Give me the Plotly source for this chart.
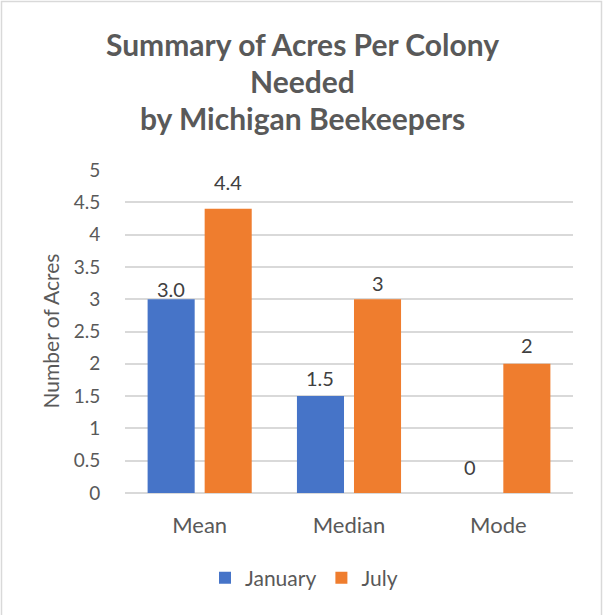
import plotly.graph_objects as go

# Summary statistics of acres per colony, by survey month
categories = ["Mean", "Median", "Mode"]
january = [3.0, 1.5, 0]
july = [4.4, 3, 2]
january_labels = ["3.0", "1.5", "0"]
july_labels = ["4.4", "3", "2"]
y_ticks = [0, 0.5, 1, 1.5, 2, 2.5, 3, 3.5, 4, 4.5, 5]
title_lines = ["Summary of Acres Per Colony", "Needed", "by Michigan Beekeepers"]

# Styling
FONT = "Lato, 'Open Sans', sans-serif"
TEXT = "#595959"
GRID = "#d9d9d9"
BLUE = "#4674c8"
ORANGE = "#ef7d2e"

W, H = 604, 615
M_L, M_R, M_T, M_B = 125, 31, 170, 122
plot_w = W - M_L - M_R
plot_h = H - M_T - M_B
BARGAP = 0.236
BARGROUPGAP = 0.175

fig = go.Figure()
fig.add_trace(go.Bar(name="January", x=categories, y=january,
                     marker=dict(color=BLUE, line=dict(width=0))))
fig.add_trace(go.Bar(name="July", x=categories, y=july,
                     marker=dict(color=ORANGE, line=dict(width=0))))

# Value labels above each bar (pixel gap between label baseline and bar top)
label_gap_jan = [1, 9, 17]
label_gap_jul = [18, 7, 10]
slot = (plot_w / len(categories)) * (1 - BARGAP) / 2
annotations = []
for i, c in enumerate(categories):
    for val, lab, gap, dx in ((january[i], january_labels[i], label_gap_jan[i], -slot / 2),
                              (july[i], july_labels[i], label_gap_jul[i], slot / 2)):
        annotations.append(dict(x=c, y=val, xref="x", yref="y", text=lab,
                                showarrow=False, xanchor="center", yanchor="bottom",
                                xshift=dx, yshift=gap - 5,
                                font=dict(family=FONT, size=20, color="#404040")))

# Chart title, one annotation per line
title_centers = [44, 81, 118]
for line, cy in zip(title_lines, title_centers):
    annotations.append(dict(x=(W / 2 - M_L) / plot_w, y=(H - M_B - cy) / plot_h,
                            xref="paper", yref="paper", text=f"<b>{line}</b>",
                            showarrow=False, xanchor="center", yanchor="middle",
                            font=dict(family=FONT, size=30, color=TEXT)))

# Vertical axis title
annotations.append(dict(x=(50 - M_L) / plot_w, y=0.5, xref="paper", yref="paper",
                        text="Number of Acres", textangle=-90, showarrow=False,
                        xanchor="center", yanchor="middle",
                        font=dict(family=FONT, size=21, color=TEXT)))

# Outer chart border
shapes = [dict(type="rect", xref="paper", yref="paper",
               x0=(1.5 - M_L) / plot_w, x1=(601.5 - M_L) / plot_w,
               y0=(H - M_B - 640) / plot_h, y1=(H - M_B - 1.5) / plot_h,
               line=dict(color=GRID, width=1.5), fillcolor="rgba(0,0,0,0)",
               layer="below")]

fig.update_layout(
    width=W, height=H,
    margin=dict(l=M_L, r=M_R, t=M_T, b=M_B),
    paper_bgcolor="white", plot_bgcolor="white",
    barmode="group", bargap=BARGAP, bargroupgap=BARGROUPGAP,
    font=dict(family=FONT, color=TEXT),
    showlegend=True,
    legend=dict(orientation="h", x=(304 - M_L) / plot_w, xanchor="center",
                y=(H - M_B - 578) / plot_h, yanchor="middle",
                font=dict(family=FONT, size=21, color=TEXT),
                itemwidth=30, traceorder="normal"),
    annotations=annotations,
    shapes=shapes,
)
fig.update_xaxes(showgrid=False, showline=False, zeroline=False,
                 ticks="outside", ticklen=13, tickcolor="rgba(0,0,0,0)",
                 tickfont=dict(family=FONT, size=22, color=TEXT))
fig.update_yaxes(range=[0, 5], tickvals=y_ticks, ticktext=[f"{v:g}" for v in y_ticks],
                 showgrid=True, gridcolor=GRID, gridwidth=1.5,
                 zeroline=True, zerolinecolor=GRID, zerolinewidth=1.5,
                 showline=False, ticks="outside", ticklen=20,
                 tickcolor="rgba(0,0,0,0)",
                 tickfont=dict(family=FONT, size=19, color=TEXT))

fig.write_html("out.html")
